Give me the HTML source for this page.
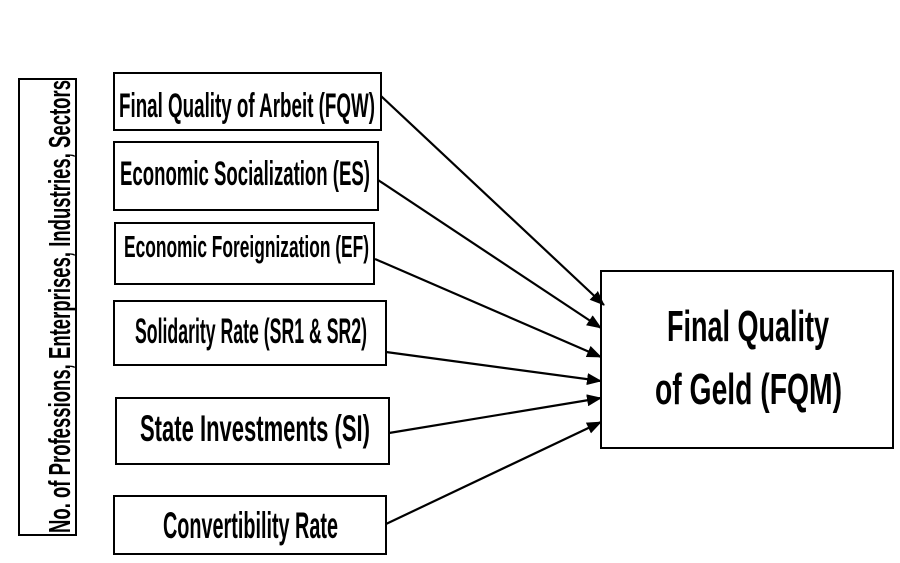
<!DOCTYPE html>
<html><head><meta charset="utf-8"><style>
html,body{margin:0;padding:0;background:#fff;}
svg{display:block;}
text{font-family:"Liberation Sans Narrow","Liberation Sans",sans-serif;font-weight:bold;fill:#000;}
</style></head><body>
<svg width="900" height="563" viewBox="0 0 900 563" xmlns="http://www.w3.org/2000/svg">
<defs>
<marker id="a" markerWidth="15" markerHeight="12" refX="14" refY="6" orient="auto" markerUnits="userSpaceOnUse">
<path d="M0,0 L15,6 L0,12 z" fill="#000"/>
</marker>
</defs>
<g fill="none" stroke="#000" stroke-width="2">
<rect x="19" y="79" width="57" height="456"/>
<rect x="114" y="73" width="267" height="57"/>
<rect x="114" y="142" width="264" height="68"/>
<rect x="115" y="223" width="259" height="61"/>
<rect x="114" y="301" width="272" height="64"/>
<rect x="116" y="398" width="273" height="66"/>
<rect x="114" y="496" width="272" height="58"/>
<rect x="601" y="271" width="292" height="177"/>
</g>
<g stroke="#000" stroke-width="2.2" marker-end="url(#a)">
<line x1="381" y1="96" x2="604" y2="305"/>
<line x1="378" y1="180" x2="601" y2="328"/>
<line x1="375" y1="259" x2="601" y2="357"/>
<line x1="386" y1="352" x2="601" y2="381"/>
<line x1="389" y1="433" x2="601" y2="398"/>
<line x1="386" y1="524" x2="601" y2="422"/>
</g>
<text x="119" y="117" font-size="34" textLength="256" lengthAdjust="spacingAndGlyphs">Final Quality of Arbeit (FQW)</text>
<text x="120" y="185" font-size="34" textLength="250" lengthAdjust="spacingAndGlyphs">Economic Socialization (ES)</text>
<text x="124" y="257" font-size="31" textLength="245" lengthAdjust="spacingAndGlyphs">Economic Foreignization (EF)</text>
<text x="135" y="343" font-size="35" textLength="232" lengthAdjust="spacingAndGlyphs">Solidarity Rate (SR1 &amp; SR2)</text>
<text x="140" y="441" font-size="37" textLength="230" lengthAdjust="spacingAndGlyphs">State Investments (SI)</text>
<text x="163" y="538" font-size="37" textLength="175" lengthAdjust="spacingAndGlyphs">Convertibility Rate</text>
<text x="667" y="341" font-size="44" textLength="162" lengthAdjust="spacingAndGlyphs">Final Quality</text>
<text x="655" y="404" font-size="44" textLength="187" lengthAdjust="spacingAndGlyphs">of Geld (FQM)</text>
<text transform="translate(70,533) rotate(-90)" x="0" y="0" font-size="31" textLength="453" lengthAdjust="spacingAndGlyphs">No. of Professions, Enterprises, Industries, Sectors</text>
</svg>
</body></html>
